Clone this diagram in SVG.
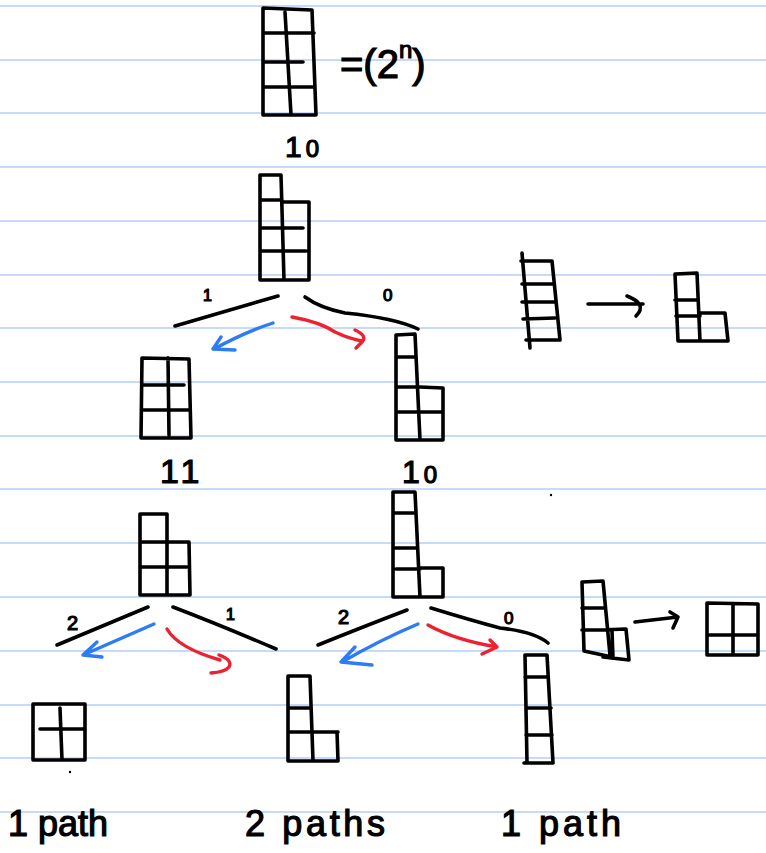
<svg xmlns="http://www.w3.org/2000/svg" width="766" height="853" viewBox="0 0 766 853">
<style>
.rule{stroke:#c6dbf8;stroke-width:2.2}
.ink{fill:none;stroke:#000;stroke-width:3.6;stroke-linecap:round;stroke-linejoin:round}
.blue{fill:none;stroke:#2e7cf4;stroke-width:3.4;stroke-linecap:round;stroke-linejoin:round}
.red{fill:none;stroke:#ec2230;stroke-width:3.4;stroke-linecap:round;stroke-linejoin:round}
.t{font-family:"Liberation Sans",Arial,sans-serif;fill:#000;stroke:#000;stroke-width:1.2}
</style>
<rect width="766" height="853" fill="#fff"/>
<g id="ruling">
<line class="rule" x1="0" y1="6" x2="766" y2="6"/>
<line class="rule" x1="0" y1="60" x2="766" y2="60"/>
<line class="rule" x1="0" y1="113" x2="766" y2="113"/>
<line class="rule" x1="0" y1="167" x2="766" y2="167"/>
<line class="rule" x1="0" y1="221" x2="766" y2="221"/>
<line class="rule" x1="0" y1="275" x2="766" y2="275"/>
<line class="rule" x1="0" y1="328" x2="766" y2="328"/>
<line class="rule" x1="0" y1="382" x2="766" y2="382"/>
<line class="rule" x1="0" y1="436" x2="766" y2="436"/>
<line class="rule" x1="0" y1="489" x2="766" y2="489"/>
<line class="rule" x1="0" y1="543" x2="766" y2="543"/>
<line class="rule" x1="0" y1="597" x2="766" y2="597"/>
<line class="rule" x1="0" y1="651" x2="766" y2="651"/>
<line class="rule" x1="0" y1="705" x2="766" y2="705"/>
<line class="rule" x1="0" y1="758" x2="766" y2="758"/>
<line class="rule" x1="0" y1="812" x2="766" y2="812"/>
</g>
<g id="root">
<path class="ink" d="M263,8 L263,115 L316,115 L312,10 L263,8 M285,12 L291,115 M263,33 L314,33 M263,62 L303,62 M264,87 L313,87"/>
<text class="t" x="340" y="78" font-size="40">=(2<tspan font-size="24" dy="-20">n</tspan><tspan dy="20">)</tspan></text>
<text class="t" x="285" y="157" font-size="30">1<tspan dx="4" font-size="24">0</tspan></text>
</g>
<g id="state-a">
<path class="ink" d="M260,175 L260,280 L309,280 L309,202 L282,202 M260,175 L281,175 L284,280 M260,200 L282,200 M261,228 L303,228 M261,251 L306,251"/>
</g>
<g id="state-11">
<path class="ink" d="M142,358 L141,438 L191,438 L189,359 L142,358 M168,358 L169,435 M142,385 L184,385 M142,410 L189,410"/>
<text class="t" x="160" y="483" font-size="34" letter-spacing="4">11</text>
</g>
<g id="state-10">
<path class="ink" d="M396,335 L396,440 L443,440 L443,388 L420,387 M396,335 L415,334 L420,440 M396,357 L416,357 M396,387 L420,387 M397,412 L441,412"/>
<text class="t" x="402" y="483" font-size="32">1<tspan dx="4" font-size="24">0</tspan></text>
</g>
<g id="state-b">
<path class="ink" d="M140,514 L140,595 L190,595 L189,542 L167,542 M140,514 L167,514 L167,595 M140,542 L167,542 M142,567 L187,567"/>
</g>
<g id="state-c">
<path class="ink" d="M393,492 L393,597 L443,597 L443,568 L420,568 M393,492 L415,492 L420,597 M393,513 L416,513 M393,548 L417,548 M396,569 L420,569"/>
<circle cx="412" cy="481" r="1.6" fill="#000"/>
<circle cx="551" cy="495" r="1.2" fill="#000"/>
</g>
<g id="rule-1">
<path class="ink" d="M522,253 L530,348 M552,261 L560,340 M521,261 L552,261 M522,284 L554,284 M522,302 L556,302 M523,319 L555,318 M526,340 L560,340"/>
<path class="ink" d="M588,304 L643,304 M627,296 Q648,304 636,316"/>
<path class="ink" d="M675,274 L697,273 L700,341 M675,274 L678,341 L728,341 L725,313 L700,313 M675,300 L698,300 M676,316 L700,316"/>
</g>
<g id="rule-2">
<path class="ink" d="M582,582 L603,581 L610,655 M582,582 L584,651 L612,657 M582,608 L605,608 M582,630 L606,630 M600,630 L626,629 L629,660 L603,657 M612,631 L613,658"/>
<path class="ink" d="M635,622 L678,617 M670,612 L678,617 L673,628"/>
<path class="ink" d="M707,603 L758,604 L758,655 L707,655 Z M733,605 L733,655 M708,635 L758,635"/>
</g>
<g id="leaf-1">
<path class="ink" d="M33,704 L85,704 L85,760 L33,760 Z M60,708 L62,760 M40,729 L85,729"/>
<circle cx="70" cy="772" r="1.2" fill="#000"/>
<text class="t" x="8" y="836" font-size="36">1 path</text>
</g>
<g id="leaf-2">
<path class="ink" d="M288,676 L288,761 L338,761 L337,732 L313,732 M288,676 L310,676 L313,761 M288,708 L311,708 M288,732 L338,732"/>
<text class="t" x="245" y="836" font-size="36" textLength="140" lengthAdjust="spacing">2 paths</text>
</g>
<g id="leaf-3">
<path class="ink" d="M525,655 L547,655 L553,763 M525,655 L527,763 M525,677 L548,677 M526,708 L551,708 M526,735 L552,735 M524,763 L553,763"/>
<text class="t" x="501" y="836" font-size="36" textLength="120" lengthAdjust="spacing">1 path</text>
</g>
<g id="connectors">
<path class="ink" d="M278,296 Q230,310 175,326"/>
<path class="ink" d="M305,297 Q320,308 345,313 Q395,318 418,329"/>
<text class="t" x="203" y="301" font-size="16">1</text>
<text class="t" x="383" y="301" font-size="17">0</text>
<path class="blue" d="M273,323 Q245,332 214,349 M221,337 L213,349 L235,350"/>
<path class="red" d="M292,317 Q320,322 335,332 Q350,339 362,341 M355,330 Q368,336 362,342 L356,348"/>

<path class="ink" d="M148,607 L57,645"/>
<path class="ink" d="M173,607 Q220,625 276,649"/>
<text class="t" x="67" y="630" font-size="20">2</text>
<text class="t" x="226" y="620" font-size="16">1</text>
<path class="blue" d="M154,624 L83,655 M97,642 L83,655 L102,657"/>
<path class="red" d="M167,629 Q178,648 220,660 M219,655 Q233,660 229,667 Q225,672 211,673"/>

<path class="ink" d="M407,610 Q360,628 318,645"/>
<path class="ink" d="M431,608 Q470,620 500,628 Q535,632 548,643"/>
<text class="t" x="338" y="624" font-size="20">2</text>
<text class="t" x="504" y="624" font-size="17">0</text>
<path class="blue" d="M418,624 Q380,640 342,662 M355,647 L341,662 L372,665"/>
<path class="red" d="M428,625 Q455,640 497,647 M490,640 L497,647 L482,654"/>
</g>
</svg>
